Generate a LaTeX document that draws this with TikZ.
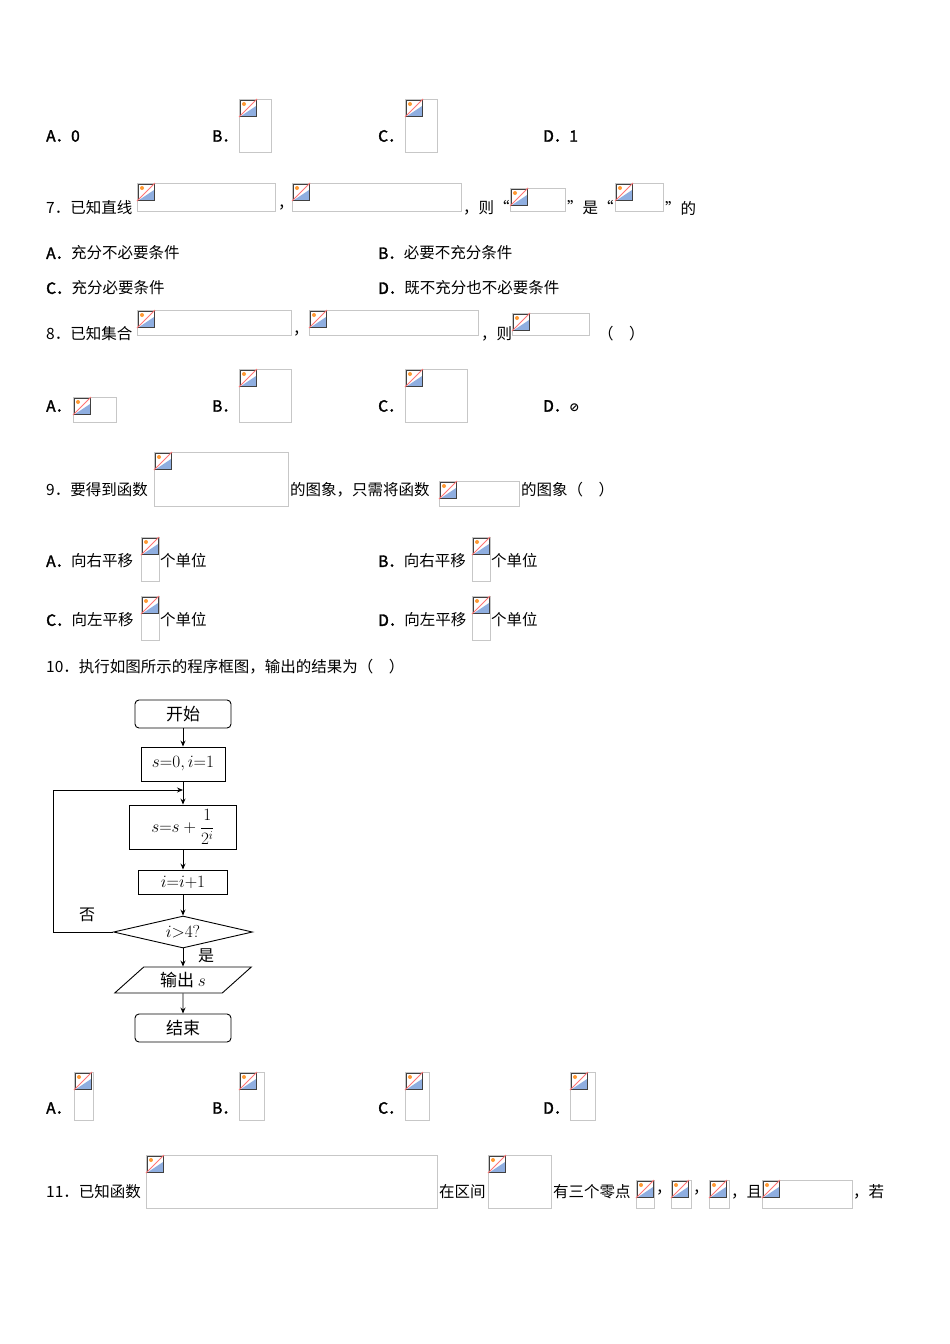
\documentclass[tikz,border=0pt]{standalone}
\usepackage{fontspec}
\setmainfont{Liberation Serif}
\newfontfamily\cjk[AutoFakeBold=2]{Noto Sans CJK SC}
\usetikzlibrary{shapes.geometric,arrows.meta}
\tikzset{
 txt/.style={anchor=west,inner sep=0pt,font=\cjk\fontsize{15.5}{15.5}\selectfont},
 lbl/.style={anchor=west,inner sep=0pt,font=\cjk\bfseries\fontsize{15.5}{15.5}\selectfont},
 fc/.style={draw,line width=0.9pt,inner sep=2pt,font=\fontsize{17}{17}\selectfont},
 fcr/.style={fc,rounded corners=4pt},
 arr/.style={-{Stealth[length=6pt,width=5pt]},line width=0.9pt}
}
\newcommand{\bimg}[5]{%
 \draw[draw=black!22,line width=0.6pt] (#2,#3) rectangle ++(#4,#5) coordinate (#1);
 \fill[white] (#2+1,#3+1) rectangle ++(17,17);
 \fill[cyan!50!blue!45] (#2+2,#3+17) -- (#2+17,#3+17) -- (#2+17,#3+7) -- cycle;
 \fill[orange!80] (#2+5,#3+5) circle (2);
 \draw[black!75,line width=0.7pt] (#2+1.5,#3+1.5) rectangle ++(16,16);
 \draw[red!55,line width=0.9pt] (#2,#3+18) -- (#2+18,#3);
}
\begin{document}
\begin{tikzpicture}[x=1pt,y=-1pt]
\fill[white] (0,0) rectangle (950,1344);
% row 1
\node[lbl] (a1) at (46,136) {A．0};
\node[lbl] (b1) at (212,136) {B．};
\bimg{ib1}{239}{99}{32}{53}
\node[lbl] (c1) at (378,136) {C．};
\bimg{ic1}{405}{99}{32}{53}
\node[lbl] (d1) at (543,136) {D．1};
% Q7
\node[txt] (q7) at (46,208) {7．已知直线};
\bimg{i71}{137}{183}{138}{28}
\node[txt] at (278,208) {，};
\bimg{i72}{292}{183}{169}{28}
\node[txt] at (463,208) {，则“};
\bimg{i73}{510}{188}{55}{23}
\node[txt] at (567,208) {”是“};
\bimg{i74}{615}{183}{48}{28}
\node[txt] at (665,208) {”的};
\node[txt] at (46,253) {\bfseries A．\mdseries 充分不必要条件};
\node[txt] at (378,253) {\bfseries B．\mdseries 必要不充分条件};
\node[txt] at (46,288) {\bfseries C．\mdseries 充分必要条件};
\node[txt] at (378,288) {\bfseries D．\mdseries 既不充分也不必要条件};
% Q8
\node[txt] at (46,334) {8．已知集合};
\bimg{i81}{137}{310}{154}{25}
\node[txt] at (293,334) {，};
\bimg{i82}{309}{310}{169}{25}
\node[txt] at (481,334) {，则};
\bimg{i83}{512}{313}{77}{22}
\node[txt] at (598,334) {（　）};
\node[lbl] at (46,406) {A．};
\bimg{i8a}{73}{397}{43}{25}
\node[lbl] at (212,406) {B．};
\bimg{i8b}{239}{369}{52}{53}
\node[lbl] at (378,406) {C．};
\bimg{i8c}{405}{369}{62}{53}
\node[lbl] at (543,406) {D．\fontspec{DejaVu Sans}\fontsize{12}{12}\selectfont ⊘};
% Q9
\node[txt] at (46,490) {9．要得到函数};
\bimg{i91}{154}{452}{134}{54}
\node[txt] at (290,490) {的图象，只需将函数};
\bimg{i92}{439}{481}{80}{25}
\node[txt] at (521,490) {的图象（　）};
\node[txt] at (46,561) {\bfseries A．\mdseries 向右平移};
\bimg{i9a}{141}{537}{18}{44}
\node[txt] at (160,561) {个单位};
\node[txt] at (378,561) {\bfseries B．\mdseries 向右平移};
\bimg{i9b}{472}{537}{18}{44}
\node[txt] at (491,561) {个单位};
\node[txt] at (46,620) {\bfseries C．\mdseries 向左平移};
\bimg{i9c}{141}{596}{18}{44}
\node[txt] at (160,620) {个单位};
\node[txt] at (378,620) {\bfseries D．\mdseries 向左平移};
\bimg{i9d}{472}{596}{18}{44}
\node[txt] at (491,620) {个单位};
% Q10
\node[txt] at (46,667) {10．执行如图所示的程序框图，输出的结果为（　）};
\node[fcr,minimum width=96pt,minimum height=28pt] (st) at (183,714) {\cjk 开始};
\node[fc,minimum width=84pt,minimum height=34pt] (init) at (183,764) {$s{=}0,i{=}1$};
\node[fc,minimum width=107pt,minimum height=44pt] (upd) at (183,827) {$s{=}s+\displaystyle\frac{1}{2^i}$};
\node[fc,minimum width=89pt,minimum height=24pt] (inc) at (183,882) {$i{=}i{+}1$};
\node[draw,diamond,aspect=4.3,line width=0.9pt,inner sep=0pt,minimum width=139pt,minimum height=32pt,font=\fontsize{17}{17}\selectfont] (dec) at (183,932) {$i{>}4?$};
\node[draw,trapezium,trapezium left angle=45,trapezium right angle=135,trapezium stretches=true,line width=0.9pt,minimum width=137pt,minimum height=26pt,inner sep=1pt,font=\fontsize{17}{17}\selectfont] (out) at (183,980) {\cjk 输出 $s$};
\node[fcr,minimum width=96pt,minimum height=28pt] (en) at (183,1028) {\cjk 结束};
\coordinate (lp) at (183,790);
\draw[arr] (st) -- (init);
\draw[line width=0.9pt] (init) -- (lp);
\draw[arr] (lp) -- (upd);
\draw[arr] (upd) -- (inc);
\draw[arr] (inc) -- (dec);
\draw[arr] (dec) -- (out);
\draw[arr] (out) -- (en);
\draw[arr] (dec.west) -- (53,932) -- (53,790) -- (lp);
\node[font=\cjk\fontsize{16}{16}\selectfont] (no) at (87,915) {否};
\node[font=\cjk\fontsize{16}{16}\selectfont] (yes) at (206,956) {是};
% answers
\node[lbl] at (46,1108) {A．};
\bimg{iaa}{74}{1072}{19}{48}
\node[lbl] at (212,1108) {B．};
\bimg{iab}{239}{1072}{25}{48}
\node[lbl] at (378,1108) {C．};
\bimg{iac}{405}{1072}{24}{48}
\node[lbl] at (543,1108) {D．};
\bimg{iad}{570}{1072}{25}{48}
% Q11
\node[txt] at (46,1192) {11．已知函数};
\bimg{i111}{146}{1155}{291}{53}
\node[txt] at (439,1192) {在区间};
\bimg{i112}{488}{1155}{63}{53}
\node[txt] at (553,1192) {有三个零点};
\bimg{i113}{636}{1180}{18}{28}
\node[txt] at (656,1192) {，};
\bimg{i114}{671}{1180}{20}{28}
\node[txt] at (693,1192) {，};
\bimg{i115}{709}{1180}{20}{28}
\node[txt] at (731,1192) {，且};
\bimg{i116}{762}{1180}{90}{28}
\node[txt] at (853,1192) {，若};
\end{tikzpicture}
\end{document}
